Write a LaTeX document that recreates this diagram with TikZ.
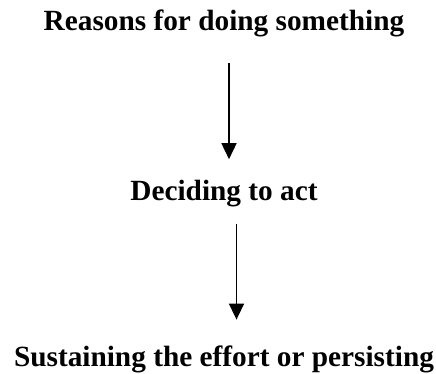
\documentclass[tikz,border=0pt]{standalone}
\usepackage{fontspec}
\setmainfont{Liberation Serif}
\usepackage{tikz}
\usetikzlibrary{arrows.meta,positioning}

\begin{document}
\begin{tikzpicture}[
  stage/.style={inner sep=0pt, text height=19pt, text depth=6pt,
                font=\fontsize{29.3}{33}\selectfont\bfseries},
  arrow/.style={-{Triangle[length=16pt,width=15pt]}, line width=1.6pt}
]
  \useasboundingbox (0,0) rectangle (436pt,374pt);

  % Stages
  \node[stage, anchor=base] (reasons) at (224pt,343pt) {Reasons for doing something};
  \node[stage, below=144pt of reasons] (deciding) {Deciding to act};
  \node[stage, below=141pt of deciding] (sustaining) {Sustaining the effort or persisting};

  % Arrows
  \draw[arrow] ([xshift=5pt,yshift=-26pt]reasons.south) -- ([xshift=5pt,yshift=22pt]deciding.north);
  \draw[arrow] ([xshift=12.5pt,yshift=-17pt]deciding.south) -- ([xshift=12.5pt,yshift=28pt]sustaining.north);
\end{tikzpicture}
\end{document}
